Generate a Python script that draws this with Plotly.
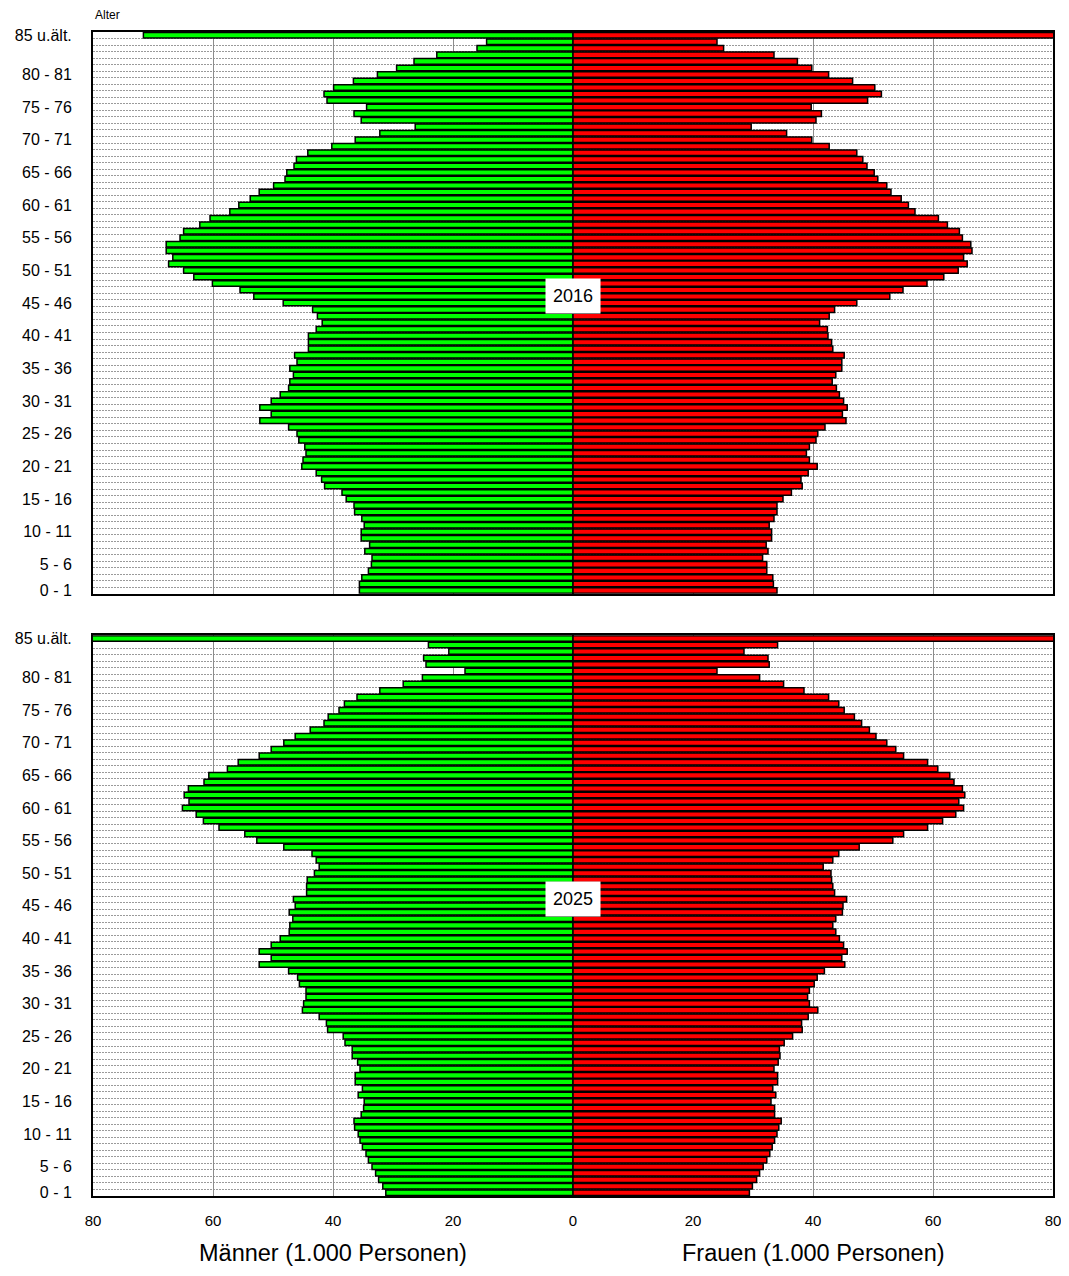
import numpy as np
import plotly.graph_objects as go

# Altersgruppen, von unten (0 - 1) nach oben (85 u.ält.)
age_groups = ['{} - {}'.format(a, a + 1) for a in range(85)] + ['85 u.ält.']
tick_idx = [0, 4, 9, 14, 19, 24, 29, 34, 39, 44, 49, 54, 59, 64, 69, 74, 79, 85]
tick_text = ['0 - 1', '5 - 6', '10 - 11', '15 - 16', '20 - 21', '25 - 26', '30 - 31',
             '35 - 36', '40 - 41', '45 - 46', '50 - 51', '55 - 56', '60 - 61', '65 - 66',
             '70 - 71', '75 - 76', '80 - 81', '85 u.ält.']

# 1.000 Personen
men_2016 = [35.6, 35.6, 35.2, 34.1, 33.6, 33.5, 34.7, 33.9, 35.3, 35.3,
            34.8, 35.2, 36.4, 36.5, 37.8, 38.5, 41.4, 41.9, 42.8, 45.2,
            45.0, 44.5, 44.7, 45.7, 46.0, 47.4, 52.2, 50.3, 52.2, 50.3,
            48.8, 47.4, 47.2, 46.6, 47.2, 46.0, 46.4, 44.1, 44.1, 44.1,
            42.8, 41.8, 42.6, 43.4, 48.3, 53.2, 55.5, 60.1, 63.2, 64.9,
            67.4, 66.7, 67.8, 67.8, 65.5, 64.9, 62.2, 60.5, 57.2, 55.7,
            53.8, 52.3, 49.9, 48.0, 47.7, 46.5, 46.1, 44.2, 40.2, 36.3,
            32.2, 26.3, 35.3, 36.5, 34.4, 41.0, 41.5, 39.9, 36.6, 32.6,
            29.4, 26.5, 22.7, 16.0, 14.4, 71.6]
women_2016 = [34.0, 33.4, 33.3, 32.3, 32.3, 31.6, 32.5, 32.2, 33.1, 33.1,
              32.7, 33.5, 34.0, 34.0, 35.0, 36.4, 38.2, 38.0, 39.2, 40.7,
              39.4, 38.9, 39.4, 40.5, 40.8, 42.0, 45.5, 44.9, 45.7, 45.1,
              44.4, 43.9, 43.2, 43.8, 44.8, 44.8, 45.2, 43.3, 43.1, 42.5,
              42.4, 41.1, 42.7, 43.6, 47.3, 52.8, 55.0, 59.0, 61.8, 64.2,
              65.7, 65.1, 66.5, 66.3, 64.9, 64.4, 62.4, 60.9, 57.0, 55.9,
              54.7, 53.0, 52.3, 50.8, 50.2, 49.0, 48.3, 47.3, 42.7, 39.8,
              35.6, 29.7, 40.5, 41.4, 39.7, 49.1, 51.4, 50.3, 46.6, 42.6,
              39.8, 37.4, 33.5, 25.1, 24.0, 150.0]
men_2025 = [31.2, 31.7, 32.4, 32.9, 33.5, 34.1, 34.5, 35.1, 35.5, 35.8,
            36.4, 36.5, 35.3, 34.9, 34.8, 35.8, 35.1, 36.3, 36.3, 35.5,
            35.9, 36.8, 36.8, 38.0, 38.3, 40.9, 41.1, 42.3, 45.1, 44.9,
            44.5, 44.5, 45.6, 45.9, 47.4, 52.3, 50.3, 52.3, 50.3, 48.8,
            47.3, 47.2, 46.7, 47.3, 46.3, 46.6, 44.4, 44.4, 44.3, 43.1,
            42.3, 42.8, 43.5, 48.2, 52.7, 54.7, 59.0, 61.6, 62.8, 65.1,
            64.0, 64.8, 64.1, 61.5, 60.7, 57.6, 55.8, 52.3, 50.3, 48.2,
            46.3, 43.8, 41.5, 40.8, 39.0, 38.1, 36.0, 32.2, 28.3, 25.1,
            18.0, 24.5, 24.9, 20.7, 24.1, 105.0]
women_2025 = [29.4, 29.9, 30.6, 31.1, 31.7, 32.3, 32.8, 33.2, 33.6, 34.0,
              34.3, 34.7, 33.6, 33.6, 33.0, 33.8, 33.3, 34.1, 34.1, 33.5,
              34.2, 34.5, 34.4, 35.2, 36.6, 38.2, 38.1, 39.2, 40.8, 39.4,
              39.1, 39.4, 40.2, 40.7, 41.9, 45.3, 44.8, 45.7, 45.1, 44.4,
              43.8, 43.3, 43.8, 44.9, 45.0, 45.6, 43.6, 43.3, 43.1, 43.0,
              41.7, 43.3, 44.3, 47.7, 53.3, 55.1, 59.1, 61.6, 63.8, 65.1,
              64.3, 65.3, 64.9, 63.5, 62.8, 60.8, 59.1, 55.1, 53.8, 52.3,
              50.5, 49.4, 48.1, 46.9, 45.2, 44.3, 42.6, 38.5, 35.1, 31.1,
              24.0, 32.7, 32.5, 28.5, 34.1, 175.0]

years = ['2016', '2025']
x_ticks = [-80, -60, -40, -20, 0, 20, 40, 60, 80]
x_ticktext = ['80', '60', '40', '20', '0', '20', '40', '60', '80']

FONT = 'Liberation Sans, Arial, sans-serif'
GREEN = '#00FF00'
RED = '#FF0000'

pos = np.arange(len(age_groups))

fig = go.Figure()
panels = [(men_2016, women_2016, 'x', 'y'), (men_2025, women_2025, 'x2', 'y2')]
for men, women, xa, ya in panels:
    fig.add_trace(go.Bar(x=-np.array(men), y=pos, orientation='h', xaxis=xa, yaxis=ya,
                         marker=dict(color=GREEN, line=dict(color='black', width=1.5)),
                         customdata=age_groups, showlegend=False))
    fig.add_trace(go.Bar(x=np.array(women), y=pos, orientation='h', xaxis=xa, yaxis=ya,
                         marker=dict(color=RED, line=dict(color='black', width=1.5)),
                         customdata=age_groups, showlegend=False))

xaxis_style = dict(range=[-80, 80], tickmode='array', tickvals=x_ticks, ticktext=x_ticktext,
                   showgrid=True, gridcolor='#8c8c8c', gridwidth=1,
                   zeroline=True, zerolinecolor='black', zerolinewidth=2,
                   showline=True, linecolor='black', linewidth=2, ticks='', mirror=True,
                   automargin=False,
                   tickfont=dict(family=FONT, size=15, color='black'))
yaxis_style = dict(range=[-0.5, len(age_groups) - 0.5], tickmode='array',
                   tickvals=tick_idx, ticktext=tick_text, showgrid=False, zeroline=False,
                   showline=True, linecolor='black', linewidth=2, ticks='', mirror=True,
                   ticklabelstandoff=16, automargin=False,
                   tickfont=dict(family=FONT, size=16, color='black'),
                   minor=dict(tick0=0.5, dtick=1, showgrid=True, gridcolor='#9a9a9a',
                              griddash='2px,1px', gridwidth=1, ticks=''))

# page body adds an 8px margin, so the figure is a little smaller than the window
fig.update_layout(
    width=1061, height=1260,
    margin=dict(l=85, r=16, t=24, b=72),
    paper_bgcolor='white', plot_bgcolor='white',
    barmode='overlay', bargap=0.15,
    font=dict(family=FONT, color='black'),
    xaxis=dict(xaxis_style, anchor='y', showticklabels=False),
    yaxis=dict(yaxis_style, domain=[0.5174, 1]),
    xaxis2=dict(xaxis_style, anchor='y2', ticklabelstandoff=10),
    yaxis2=dict(yaxis_style, domain=[0, 0.4818]),
)

# Jahreszahl-Kästchen
for year, xa, ya in [(years[0], 'x', 'y'), (years[1], 'x2', 'y2')]:
    fig.add_annotation(text=year, x=0, y=45.1, xref=xa, yref=ya, showarrow=False,
                       bgcolor='white', borderpad=7,
                       font=dict(family=FONT, size=18, color='black'))

fig.add_annotation(text='Alter', x=0, y=1, xref='paper', yref='paper', xanchor='left',
                   yanchor='middle', yshift=17, showarrow=False,
                   font=dict(family=FONT, size=12, color='black'))
fig.add_annotation(text='Männer (1.000 Personen)', x=-40, y=0, xref='x2', yref='paper',
                   yanchor='middle', yshift=-57, showarrow=False,
                   font=dict(family=FONT, size=23.5, color='black'))
fig.add_annotation(text='Frauen (1.000 Personen)', x=40, y=0, xref='x2', yref='paper',
                   yanchor='middle', yshift=-57, showarrow=False,
                   font=dict(family=FONT, size=23.5, color='black'))

fig.write_html("out.html")
